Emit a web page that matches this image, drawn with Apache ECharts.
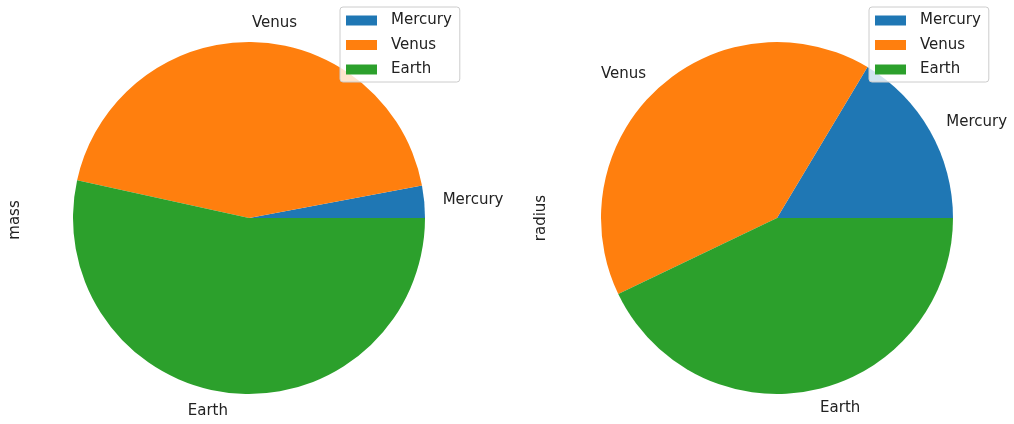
<!DOCTYPE html>
<html><head><meta charset="utf-8">
<script src="https://cdn.jsdelivr.net/npm/echarts@6/dist/echarts.min.js"></script>
<style>html,body{margin:0;padding:0;background:#fff}#c{width:1014px;height:424px}</style>
</head><body><div id="c"></div>
<script>
const planets = ['Mercury', 'Venus', 'Earth'];
const mass = [0.330, 4.87, 5.97];
const radius = [2439.7, 6051.8, 6378.1];
const colors = ['#1f77b4', '#ff7f0e', '#2ca02c'];
const FONT = 'DejaVu Sans';
const FS = 15;

const chart = echarts.init(document.getElementById('c'), null, {renderer: 'canvas'});
function pieSeries(name, values, cx) {
  return {
    type: 'pie', name: name,
    center: [cx, 218], radius: 176,
    startAngle: 0, clockwise: false,
    avoidLabelOverlap: false,
    animation: false,
    data: planets.map((p, i) => ({name: p, value: values[i]})),
    label: {show: true, position: 'outside', color: '#222', fontFamily: FONT, fontSize: FS, distanceToLabelLine: 0, formatter: '{b}'},
    labelLine: {show: false, length: 18.5, length2: 0},
    itemStyle: {borderWidth: 0},
    emphasis: {disabled: true}
  };
}
function legend(left) {
  return {
    left: left, top: 7, orient: 'vertical',
    data: planets, icon: 'rect', itemWidth: 31, itemHeight: 10, itemGap: 9.5,
    padding: [6, 8, 5, 6],
    backgroundColor: 'rgba(255,255,255,0.8)', borderColor: '#cccccc', borderWidth: 1, borderRadius: 3,
    textStyle: {fontFamily: FONT, fontSize: FS, color: '#222', padding: [0, 0, 0, 9]}
  };
}
chart.setOption({
  color: colors,
  animation: false,
  legend: [legend(340), legend(869)],
  series: [pieSeries('mass', mass, 249), pieSeries('radius', radius, 777)],
  graphic: [
    {type: 'text', rotation: Math.PI / 2, x: 15, y: 220, style: {text: 'mass', font: FS + 'px "DejaVu Sans"', fill: '#222', align: 'center', verticalAlign: 'middle'}},
    {type: 'text', rotation: Math.PI / 2, x: 541, y: 218, style: {text: 'radius', font: FS + 'px "DejaVu Sans"', fill: '#222', align: 'center', verticalAlign: 'middle'}}
  ]
});
</script></body></html>
